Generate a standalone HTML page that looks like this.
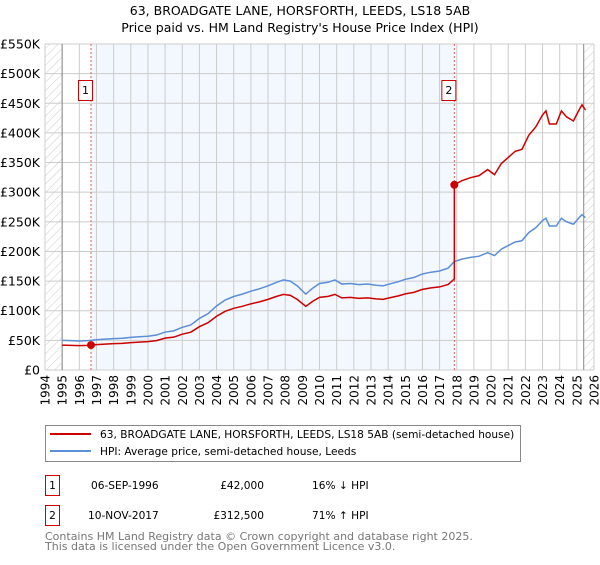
<!DOCTYPE html>
<html><head><meta charset="utf-8"><style>
body{margin:0;background:#fff;font-family:"Liberation Sans","DejaVu Sans",sans-serif;}
svg text{font-family:"DejaVu Sans","Liberation Sans",sans-serif;}
</style></head><body>
<svg width="600" height="560" xmlns="http://www.w3.org/2000/svg">
<defs><pattern id="hatch" width="6" height="6" patternUnits="userSpaceOnUse" patternTransform="rotate(45)"><line x1="0" y1="0" x2="0" y2="6" stroke="#ccc" stroke-width="1"/></pattern></defs>
<text x="300" y="15" text-anchor="middle" font-size="12.5">63, BROADGATE LANE, HORSFORTH, LEEDS, LS18 5AB</text>
<text x="300" y="32" text-anchor="middle" font-size="12.5">Price paid vs. HM Land Registry's House Price Index (HPI)</text>
<g id="plot"></g>
<g>
<rect x="45.5" y="425.5" width="475" height="36" fill="#fff" stroke="#888"/>
<line x1="50" y1="434" x2="91" y2="434" stroke="#cc0000" stroke-width="2"/>
<text x="100" y="438" font-size="10.6">63, BROADGATE LANE, HORSFORTH, LEEDS, LS18 5AB (semi-detached house)</text>
<line x1="50" y1="451" x2="91" y2="451" stroke="#5b8fd6" stroke-width="2"/>
<text x="100" y="455" font-size="10.6">HPI: Average price, semi-detached house, Leeds</text>
</g>
<g font-size="10.6">
<rect x="45.5" y="475.5" width="14" height="20" fill="#fff" stroke="#cc0000"/><text x="52.5" y="489" text-anchor="middle">1</text>
<text x="91" y="489">06-SEP-1996</text><text x="264" y="489" text-anchor="end">£42,000</text><text x="312" y="489">16% ↓ HPI</text>
<rect x="45.5" y="505.5" width="14" height="20" fill="#fff" stroke="#cc0000"/><text x="52.5" y="519" text-anchor="middle">2</text>
<text x="88" y="519">10-NOV-2017</text><text x="264" y="519" text-anchor="end">£312,500</text><text x="312" y="519">71% ↑ HPI</text>
</g>
<text x="45" y="540" font-size="11" fill="#777">Contains HM Land Registry data © Crown copyright and database right 2025.</text>
<text x="45" y="550" font-size="11" fill="#777">This data is licensed under the Open Government Licence v3.0.</text>
</svg>
<script>
const hpiYears=[1995,1995.5,1996,1996.5,1997,1997.5,1998,1998.5,1999,1999.5,2000,2000.5,2001,2001.5,2002,2002.5,2003,2003.5,2004,2004.5,2005,2005.5,2006,2006.5,2007,2007.5,2007.9,2008.3,2008.7,2009.2,2009.6,2010,2010.5,2010.9,2011.3,2011.8,2012.3,2012.8,2013.3,2013.7,2014.2,2014.6,2015,2015.5,2016,2016.5,2017,2017.5,2017.86,2018.3,2018.8,2019.3,2019.8,2020.2,2020.6,2021,2021.4,2021.8,2022.2,2022.6,2023,2023.2,2023.4,2023.8,2024.1,2024.4,2024.8,2025.1,2025.3,2025.5];
const hpiValues=[50000,49500,49000,49500,51000,52000,53000,53500,55000,56000,57000,59000,64000,66000,72000,76000,87000,95000,108000,118000,124000,128000,133000,137000,142000,148000,152000,150000,142000,128000,138000,146000,148000,152000,145000,146000,144000,145000,143000,142000,146000,149000,153000,156000,162000,165000,167000,172000,183000,187000,190000,192000,198000,193000,204000,210000,216000,218000,232000,240000,252000,256000,243000,243000,256000,250000,246000,256000,262000,257000];
const saleYears=[1996.68,2017.86];
const salePrices=[42000,312500];
const yTicks=[0,50000,100000,150000,200000,250000,300000,350000,400000,450000,500000,550000];
const yTickLabels=["£0","£50K","£100K","£150K","£200K","£250K","£300K","£350K","£400K","£450K","£500K","£550K"];
const xTicks=[1994,1995,1996,1997,1998,1999,2000,2001,2002,2003,2004,2005,2006,2007,2008,2009,2010,2011,2012,2013,2014,2015,2016,2017,2018,2019,2020,2021,2022,2023,2024,2025,2026];

const L=45,R=594,T=44,B=370,X0=1994,X1=2026,YMAX=550000;
const xs=v=>L+(v-X0)/(X1-X0)*(R-L);
const ys=v=>B-v/YMAX*(B-T);
const NS="http://www.w3.org/2000/svg";
const g=document.getElementById('plot');
function mk(tag,attrs,parent){const e=document.createElementNS(NS,tag);for(const k in attrs)e.setAttribute(k,attrs[k]);(parent||g).appendChild(e);return e;}
function hpiAt(y){for(let i=1;i<hpiYears.length;i++){if(y<=hpiYears[i]){const t=(y-hpiYears[i-1])/(hpiYears[i]-hpiYears[i-1]);return hpiValues[i-1]+t*(hpiValues[i]-hpiValues[i-1]);}}return hpiValues[hpiValues.length-1];}

let e;
e=mk('rect',{x:xs(saleYears[0]),y:T,width:xs(saleYears[1])-xs(saleYears[0]),height:B-T,fill:'#f3f7fe'});


e=mk('rect',{x:L,y:T,width:xs(1995)-L,height:B-T,fill:'url(#hatch)'});


e=mk('rect',{x:xs(2025.4),y:T,width:R-xs(2025.4),height:B-T,fill:'url(#hatch)'});


yTicks.forEach((v,i)=>{
 e=mk('line',{x1:L,x2:R,y1:ys(v),y2:ys(v),stroke:'#ccc','stroke-width':1});
 
 
 e=mk('text',{x:L-5,y:ys(v)+4.5,'text-anchor':'end','font-size':12.5});
 e.textContent=yTickLabels[i];
 
 
});
xTicks.forEach(v=>{
 e=mk('line',{x1:xs(v),x2:xs(v),y1:T,y2:B,stroke:'#ccc','stroke-width':1});
 
 
 e=mk('text',{x:0,y:0,'text-anchor':'end','font-size':12,transform:`translate(${xs(v)+4.5},${B+5}) rotate(-90)`});
 e.textContent=v;
 
 
});
[1995,2025.4].forEach(v=>{e=mk('line',{x1:xs(v),x2:xs(v),y1:T,y2:B,stroke:'#888'});
 
 });
saleYears.forEach((v,i)=>{
 e=mk('line',{x1:xs(v),x2:xs(v),y1:T,y2:B,stroke:'#e06060','stroke-dasharray':'2,2'});
 
 
 e=mk('rect',{x:xs(v)-12.5,y:80.5,width:14,height:20,fill:'#fff',stroke:'#cc0000'});
 
 
 e=mk('text',{x:xs(v)-5.5,y:94,'text-anchor':'middle','font-size':11});
 e.textContent=String(i+1);
 
 
});
e=mk('polyline',{points:hpiYears.map((y,i)=>xs(y)+','+ys(hpiValues[i])).join(' '),fill:'none',stroke:'#5b8fd6','stroke-width':1.5});


const pts=[];
hpiYears.forEach((y,i)=>{
 let k=0;for(let j=0;j<saleYears.length;j++)if(y>=saleYears[j])k=j;
 if(y<saleYears[1]-0.001){k=0;}
 const r=salePrices[k]/hpiAt(saleYears[k]);
 if(Math.abs(y-saleYears[1])<0.001){pts.push([y,salePrices[0]/hpiAt(saleYears[0])*hpiValues[i]]);}
 pts.push([y,hpiValues[i]*r]);
});
e=mk('polyline',{points:pts.map(p=>xs(p[0])+','+ys(p[1])).join(' '),fill:'none',stroke:'#cc0000','stroke-width':1.5});


saleYears.forEach((v,i)=>{
 e=mk('circle',{cx:xs(v),cy:ys(salePrices[i]),r:4,fill:'#cc0000'});
 
 
});
</script>
</body></html>
